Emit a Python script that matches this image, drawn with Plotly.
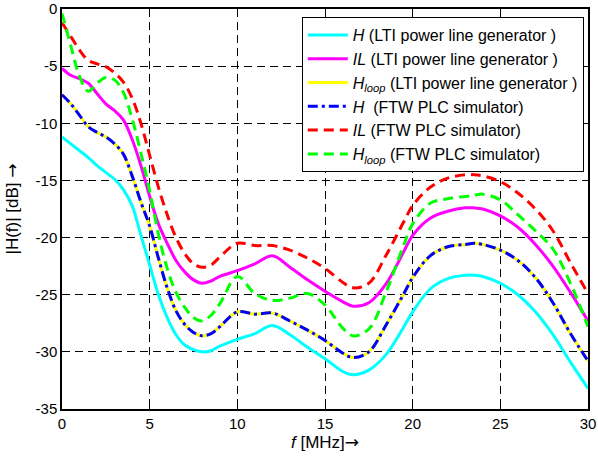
import plotly.graph_objects as go

freq_mhz = [0, 0.5, 1, 1.5, 2, 2.5, 3, 3.5, 4, 4.5, 5, 5.5, 6, 6.5, 7, 7.5, 8, 8.5, 9, 10,
            11, 12, 13, 14, 15, 16, 16.6, 17.5, 18.5, 19.5, 20, 21, 22, 23, 23.5, 24,
            25, 26, 27, 28, 29, 30]

h_lti = [-11.2, -11.8, -12.4, -13.0, -13.7, -14.3, -14.9, -15.8, -17.2, -19.8, -22.4, -25.0,
         -27.0, -28.5, -29.4, -29.8, -30.0, -29.9, -29.5, -28.9, -28.4, -27.7, -28.5, -29.6,
         -30.6, -31.7, -32.0, -31.6, -30.2, -27.8, -26.5, -24.5, -23.6, -23.3, -23.3, -23.4,
         -24.0, -25.0, -26.5, -28.5, -30.9, -33.2]

il_lti = [-5.2, -5.8, -6.1, -6.5, -7.4, -8.3, -8.9, -9.7, -11.4, -13.7, -16.4, -18.8,
          -20.5, -22.0, -23.0, -23.7, -24.0, -23.8, -23.4, -22.9, -22.3, -21.6, -22.6, -23.7,
          -24.7, -25.6, -26.0, -25.7, -24.0, -21.2, -19.8, -18.3, -17.7, -17.4, -17.4, -17.5,
          -18.1, -19.1, -20.6, -22.5, -24.8, -27.3]

hloop_lti = [-7.5, -8.3, -9.3, -10.3, -10.8, -11.2, -11.8, -12.7, -14.6, -16.9, -19.0, -21.8,
             -24.4, -26.4, -27.6, -28.3, -28.6, -28.4, -27.8, -26.5, -26.7, -26.6, -27.3, -28.1,
             -29.0, -30.1, -30.5, -30.0, -27.6, -24.9, -23.5, -21.6, -20.8, -20.6, -20.5, -20.6,
             -21.1, -22.0, -23.5, -25.7, -28.4, -30.8]

h_ftw = [-7.5, -8.3, -9.3, -10.3, -10.8, -11.2, -11.8, -12.7, -14.6, -16.9, -19.0, -21.8,
         -24.4, -26.4, -27.6, -28.3, -28.6, -28.4, -27.8, -26.5, -26.7, -26.6, -27.3, -28.1,
         -29.0, -30.1, -30.5, -30.0, -27.6, -24.9, -23.5, -21.6, -20.8, -20.6, -20.5, -20.6,
         -21.1, -22.0, -23.5, -25.7, -28.4, -30.8]

il_ftw = [-1.2, -2.4, -3.6, -4.5, -4.8, -5.05, -5.6, -6.4, -7.8, -10.0, -12.8, -15.6,
          -18.0, -20.0, -21.4, -22.3, -22.6, -22.4, -21.7, -20.5, -20.7, -20.7, -21.1, -21.8,
          -22.7, -23.9, -24.4, -24.0, -21.5, -18.6, -17.2, -15.6, -14.8, -14.5, -14.5, -14.6,
          -15.1, -16.1, -17.5, -19.4, -22.2, -24.9]

hloop_ftw = [-0.4, -3.2, -5.9, -7.2, -6.5, -6.0, -6.2, -7.3, -9.6, -12.6, -15.9, -19.7,
             -22.7, -24.8, -26.1, -27.0, -27.3, -26.8, -25.8, -23.4, -24.9, -25.5, -25.3, -24.9,
             -25.9, -27.9, -28.6, -28.0, -24.7, -20.6, -18.8, -17.0, -16.6, -16.4, -16.3, -16.2,
             -16.7, -18.0, -19.4, -21.0, -24.0, -27.8]

x_ticks = [0, 5, 10, 15, 20, 25, 30]
y_ticks = [0, -5, -10, -15, -20, -25, -30, -35]

series = [
    ("<i>H</i> (LTI power line generator )", h_lti, "#00FFFF", "solid"),
    ("<i>IL</i> (LTI power line generator )", il_lti, "#FF00FF", "solid"),
    ("<i>H<sub>loop</sub></i> (LTI power line generator )", hloop_lti, "#FFFF00", "solid"),
    ("<i>H</i>  (FTW PLC simulator)", h_ftw, "#0000FF", "10px,4px,3px,4px"),
    ("<i>IL</i> (FTW PLC simulator)", il_ftw, "#FF0000", "10px,6px"),
    ("<i>H<sub>loop</sub></i> (FTW PLC simulator)", hloop_ftw, "#00FF00", "10px,6px"),
]

FONT = "Liberation Sans, Arial"
ARROW = "<span style=\"font-family:DejaVu Sans\">\u2192</span>"

fig = go.Figure()
for name, vals, color, dash in series:
    fig.add_trace(go.Scatter(
        x=freq_mhz, y=vals, mode="lines", name=name,
        line=dict(color=color, width=3, dash=dash, shape="spline", smoothing=1.0),
    ))

axis_common = dict(
    showline=True, linecolor="black", linewidth=1.5, mirror="allticks",
    ticks="inside", ticklen=5, tickcolor="black", tickwidth=1,
    showgrid=True, gridcolor="black", gridwidth=1, griddash="8px,5px",
    zeroline=False,
    tickfont=dict(family=FONT, size=15, color="black"),
)

fig.update_xaxes(
    range=[0, 30], tickvals=x_ticks, ticktext=[str(v) for v in x_ticks],
    title=dict(text="<i>f</i> [MHz]" + ARROW, font=dict(family=FONT, size=17, color="black"), standoff=4),
    **axis_common,
)
fig.update_yaxes(
    range=[-35, 0], tickvals=y_ticks, ticktext=[str(v) for v in y_ticks],
    title=dict(text="|H(f)| [dB] " + ARROW, font=dict(family=FONT, size=17, color="black"), standoff=13),
    **axis_common,
)

fig.update_layout(
    width=598, height=457,
    margin=dict(l=62, r=10, t=9, b=48, autoexpand=False),
    plot_bgcolor="white", paper_bgcolor="white",
    showlegend=True,
    legend=dict(
        x=0.992, y=0.98, xanchor="right", yanchor="top",
        bgcolor="white", bordercolor="black", borderwidth=1,
        font=dict(family=FONT, size=16, color="black"),
        itemwidth=40, tracegroupgap=0,
    ),
)

fig.write_html(
    "out.html",
    config={"displayModeBar": False},
    post_script="document.body.style.margin='0';document.body.style.padding='0';",
)
